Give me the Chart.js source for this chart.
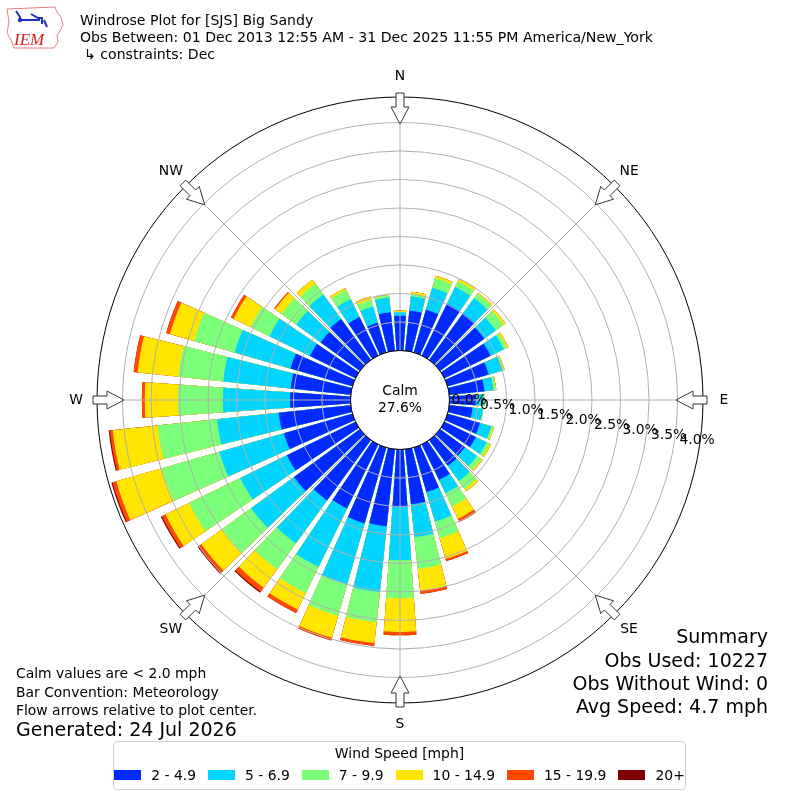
<!DOCTYPE html>
<html>
<head>
<meta charset="utf-8">
<script src="https://cdn.jsdelivr.net/npm/chart.js@4.4.1/dist/chart.umd.min.js"></script>
<style>
html,body{margin:0;padding:0;background:#fff;}
#wrap{position:relative;width:800px;height:800px;overflow:hidden;font-family:'DejaVu Sans',sans-serif;color:#000;}
#c{position:absolute;left:0;top:0;}
.t{position:absolute;white-space:nowrap;line-height:16px;font-size:13.9px;}
.hd{font-size:14.1px;}
.big{font-size:19px;line-height:22px;}
.r{text-align:right;}
#legend{position:absolute;left:113px;top:741px;width:571px;height:47px;border:1px solid #d0d0d0;border-radius:4px;box-sizing:content-box;}
#legTitle{position:absolute;left:0;right:0;top:3px;text-align:center;font-size:13.9px;line-height:16px;white-space:nowrap;}
#legRow{position:absolute;left:0;right:0;top:25px;display:flex;justify-content:center;align-items:center;font-size:13.9px;line-height:16px;white-space:nowrap;}
.sw{display:inline-block;width:27px;height:10px;margin-right:10px;flex:none;}
.it{display:flex;align-items:center;margin-right:12px;white-space:nowrap;flex:none;}
.it:last-child{margin-right:0;}
</style>
</head>
<body>
<div id="wrap">
<canvas id="c" width="800" height="800"></canvas>
<svg style="position:absolute;left:0;top:0" width="72" height="54">
  <path d="M7,9 L55,7 L57,12 L61,17 L63,25 L60,31 L57,35 L58,42 L54,48 L14,48 L11,40 L7,33 L9,22 Z" fill="none" stroke="#e58080" stroke-width="1"/>
  <g stroke="#2030c8" stroke-width="2" fill="none">
    <path d="M16,11 L20,17 L20,20"/>
    <path d="M19,20 L40,20"/>
    <path d="M31,14 L38,18 L42,18 L42,24"/>
    <path d="M44,20 L47,27"/>
  </g>
  <circle cx="20" cy="20" r="2.2" fill="#2030c8"/>
  <text x="14" y="45" font-family="'Liberation Serif',serif" font-style="italic" font-size="17" fill="#d42020">IEM</text>
</svg>
<div class="t hd" style="left:80px;top:12px;">Windrose Plot for [SJS] Big Sandy</div>
<div class="t hd" style="left:80px;top:29px;">Obs Between: 01 Dec 2013 12:55 AM - 31 Dec 2025 11:55 PM America/New_York</div>
<div class="t hd" style="left:84px;top:46px;">↳ constraints: Dec</div>

<div class="t" style="left:16px;top:665px;">Calm values are &lt; 2.0 mph</div>
<div class="t" style="left:16px;top:684px;">Bar Convention: Meteorology</div>
<div class="t" style="left:16px;top:702px;">Flow arrows relative to plot center.</div>
<div class="t big" style="left:16px;top:718px;">Generated: 24 Jul 2026</div>

<div class="t big r" style="right:32px;top:625px;">Summary</div>
<div class="t big r" style="right:32px;top:649px;">Obs Used: 10227</div>
<div class="t big r" style="right:32px;top:672px;">Obs Without Wind: 0</div>
<div class="t big r" style="right:32px;top:695px;">Avg Speed: 4.7 mph</div>

<div id="legend"><div id="legTitle">Wind Speed [mph]</div><div id="legRow"></div></div>
</div>
<script>
// ---- data (percent of observations) ----
const directions = [0,10,20,30,40,50,60,70,80,90,100,110,120,130,140,150,160,170,
                    180,190,200,210,220,230,240,250,260,270,280,290,300,310,320,330,340,350];
const speedBins = ['2 - 4.9','5 - 6.9','7 - 9.9','10 - 14.9','15 - 19.9','20+'];
const binColors = ['#002aff','#00d4ff','#7bff7b','#ffe500','#ff4900','#800000'];
const bin2to5   = [0.61,0.71,0.78,1.01,1.01,0.96,0.90,0.75,0.62,0.46,0.41,0.59,0.61,0.54,0.56,0.69,0.81,0.97,
                   1.00,1.36,1.38,1.25,1.31,1.43,1.34,1.25,1.27,1.06,1.06,1.13,0.89,0.85,0.89,0.75,0.54,0.68];
const bin5to7   = [0.06,0.25,0.40,0.33,0.33,0.25,0.26,0.25,0.16,0.14,0.18,0.21,0.21,0.26,0.33,0.26,0.54,0.58,
                   0.94,1.16,1.11,1.14,0.93,0.93,0.91,1.18,1.09,1.18,1.19,1.02,0.79,0.53,0.53,0.35,0.30,0.26];
const bin7to10  = [0.01,0.04,0.18,0.11,0.10,0.17,0.06,0.03,0.04,0.02,0.01,0.03,0.06,0.09,0.17,0.26,0.30,0.56,
                   0.67,0.53,0.58,0.51,0.56,0.63,1.00,1.05,1.05,0.79,0.79,0.74,0.37,0.32,0.23,0.18,0.12,0.04];
const bin10to15 = [0.02,0.04,0.04,0.05,0.02,0.04,0.03,0.01,0.01,0.00,0.00,0.02,0.03,0.03,0.05,0.24,0.38,0.39,
                   0.59,0.37,0.40,0.32,0.40,0.45,0.46,0.83,0.79,0.58,0.72,0.44,0.33,0.14,0.09,0.04,0.06,0.01];
const bin15to20 = [0,0,0,0,0,0,0,0,0,0,0,0,0,0,0,0.06,0.04,0.05,
                   0.06,0.05,0.05,0.07,0.09,0.06,0.07,0.07,0.05,0.05,0.07,0.07,0.05,0.02,0,0,0,0];
const bin20plus = [0,0,0,0,0,0,0,0,0,0,0,0,0,0,0,0,0,0,
                   0,0,0,0,0.02,0.02,0.02,0.02,0.02,0,0,0,0,0,0,0,0,0];
const calmPct = 27.6;
const rTicks = [0.0,0.5,1.0,1.5,2.0,2.5,3.0,3.5,4.0];
const compass = ['N','NE','E','SE','S','SW','W','NW'];
const compassDeg = [0,45,90,135,180,225,270,315];

// ---- geometry / style ----
const BAR = 8, GAP = 2;          // degrees
const RMIN = -0.8684, RMAX = 4.4474;
const FONT = '13.9px "DejaVu Sans"';

const bins = [bin2to5, bin5to7, bin7to10, bin10to15, bin15to20, bin20plus];
let run = directions.map(() => 0);
const cum = bins.map(arr => { run = run.map((v, i) => v + arr[i]); return run.slice(); });

const labels = [];
directions.forEach(d => { labels.push(d + '°'); labels.push(''); });
const datasets = cum.map((c, k) => ({
  label: speedBins[k],
  data: c.flatMap(v => [v, 0]),
  backgroundColor: c.flatMap(() => [binColors[k], 'rgba(0,0,0,0)']),
  borderWidth: 0,
  borderColor: 'rgba(0,0,0,0)',
  angle: ctx => (ctx.dataIndex % 2 ? GAP : BAR)
}));

const rosePlugin = {
  id: 'rose',
  afterDraw(chart) {
    const s = chart.scales.r, ctx = chart.ctx;
    const cx = s.xCenter, cy = s.yCenter;
    const r0 = s.getDistanceFromCenterForValue(0);
    const rOut = s.getDistanceFromCenterForValue(s.max);
    ctx.save();
    // radial lines
    ctx.strokeStyle = '#b0b0b0'; ctx.lineWidth = 1;
    compassDeg.forEach(d => {
      const a = (d - 90) * Math.PI / 180;
      ctx.beginPath();
      ctx.moveTo(cx + r0 * Math.cos(a), cy + r0 * Math.sin(a));
      ctx.lineTo(cx + rOut * Math.cos(a), cy + rOut * Math.sin(a));
      ctx.stroke();
    });
    // calm disc
    ctx.beginPath(); ctx.arc(cx, cy, r0, 0, Math.PI * 2);
    ctx.fillStyle = '#fff'; ctx.fill();
    ctx.strokeStyle = '#000'; ctx.lineWidth = 1; ctx.stroke();
    ctx.fillStyle = '#000'; ctx.font = FONT;
    ctx.textAlign = 'center'; ctx.textBaseline = 'middle';
    ctx.fillText('Calm', cx, cy - 9);
    ctx.fillText(calmPct.toFixed(1) + '%', cx, cy + 8);
    // arrows + compass labels
    compassDeg.forEach((d, i) => {
      const a = (d - 90) * Math.PI / 180;
      const ux = Math.cos(a), uy = Math.sin(a), wx = -uy, wy = ux;
      const tip = rOut - 27, base = rOut - 10, tail = rOut + 4, hw = 9, tw = 4;
      const P = (u, w) => [cx + u * ux + w * wx, cy + u * uy + w * wy];
      const pts = [P(tip, 0), P(base, hw), P(base, tw), P(tail, tw), P(tail, -tw), P(base, -tw), P(base, -hw)];
      ctx.beginPath();
      pts.forEach((p, j) => j ? ctx.lineTo(p[0], p[1]) : ctx.moveTo(p[0], p[1]));
      ctx.closePath();
      ctx.fillStyle = '#fff'; ctx.fill();
      ctx.strokeStyle = '#333'; ctx.lineWidth = 1; ctx.stroke();
      const lp = P(rOut + 21, 0);
      ctx.fillStyle = '#000';
      ctx.fillText(compass[i], lp[0], lp[1]);
    });
    // radial tick labels
    ctx.textAlign = 'left';
    rTicks.forEach(v => {
      const r = s.getDistanceFromCenterForValue(v);
      ctx.fillText(v.toFixed(1) + '%', cx + r + 2, cy + 0.7 + 0.175 * (r - r0));
    });
    ctx.restore();
  }
};

new Chart(document.getElementById('c'), {
  type: 'polarArea',
  data: { labels, datasets },
  options: {
    responsive: false,
    animation: false,
    events: [],
    layout: { padding: 97 },
    plugins: { legend: { display: false }, tooltip: { enabled: false } },
    scales: {
      r: {
        min: RMIN, max: RMAX,
        startAngle: -BAR / 2,
        ticks: { display: false },
        afterBuildTicks: sc => { sc.ticks = rTicks.concat([RMAX]).map(v => ({ value: v })); },
        angleLines: { display: false },
        pointLabels: { display: false },
        grid: {
          z: 1, circular: true, lineWidth: 1,
          color: c => (c.tick && (c.tick.value === 0 || c.tick.value >= RMAX - 1e-6)) ? '#000' : '#b0b0b0'
        }
      }
    }
  },
  plugins: [rosePlugin]
});

// legend (HTML)
const row = document.getElementById('legRow');
speedBins.forEach((lab, k) => {
  const it = document.createElement('div'); it.className = 'it';
  const sw = document.createElement('span'); sw.className = 'sw'; sw.style.background = binColors[k];
  const tx = document.createElement('span'); tx.textContent = lab;
  it.appendChild(sw); it.appendChild(tx); row.appendChild(it);
});
</script>
</body>
</html>
